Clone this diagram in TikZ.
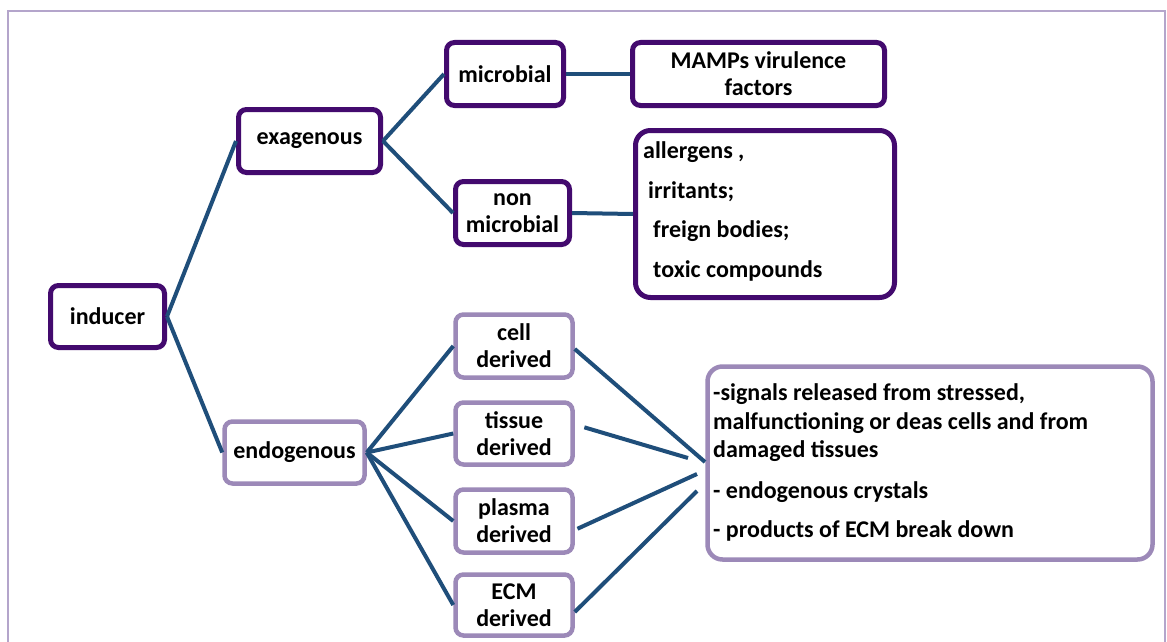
\documentclass[tikz,border=0pt]{standalone}
\usepackage{fontspec}
\setmainfont{Carlito}
\definecolor{dpurple}{HTML}{430A6E}
\definecolor{lpurple}{HTML}{9C89B8}
\definecolor{frame}{HTML}{B4A5CB}
\definecolor{conn}{HTML}{1F4E7A}
\tikzset{
  box/.style={draw=dpurple, line width=5pt, rounded corners=8pt, fill=white, inner sep=0pt, align=center, font=\fontsize{24}{27}\selectfont\bfseries},
  lbox/.style={box, draw=lpurple, line width=4.5pt},
  txt/.style={anchor=base west, inner sep=0pt, font=\fontsize{24}{27}\selectfont\bfseries},
  conn/.style={draw=conn, line width=4pt},
}
\begin{document}
\begin{tikzpicture}[x=1pt,y=-1pt]
\useasboundingbox (0,0) rectangle (1167,642);
\fill[white] (0,0) rectangle (1167,642);
% outer frame
\draw[frame, line width=2.5pt] (8,642) -- (8,11) -- (1165,11) -- (1165,642);

% nodes
\node[box, minimum width=114pt, minimum height=62pt] (inducer) at (107.5,316.5) {inducer};
\node[box, minimum width=142pt, minimum height=63pt] (exa) at (309.5,141) {exagenous};
\node[lbox, minimum width=140pt, minimum height=62pt] (endo) at (294.5,452.5) {endogenous};
\node[box, minimum width=117pt, minimum height=63pt] (micro) at (505,74) {microbial};
\node[box, minimum width=252pt, minimum height=63pt] (mamps) at (758.5,74) {MAMPs virulence\\factors};
\node[box, minimum width=114pt, minimum height=63pt] (nonmicro) at (512.5,213) {non\\microbial};
\node[box, rounded corners=15pt, minimum width=259pt, minimum height=167pt] (allerg) at (765,214) {};
\node[txt] (a1) at (643,158) {allergens ,};
\node[txt] (a2) at (648,198) {irritants;};
\node[txt] (a3) at (653,237) {freign bodies;};
\node[txt] (a4) at (653,277) {toxic compounds};

\node[lbox, minimum width=117pt, minimum height=63pt] (cell) at (514,346) {cell\\derived};
\node[lbox, minimum width=117pt, minimum height=62pt] (tissue) at (514,433.5) {tissue\\derived};
\node[lbox, minimum width=117pt, minimum height=63pt] (plasma) at (514,521) {plasma\\derived};
\node[lbox, minimum width=117pt, minimum height=61pt] (ecm) at (514,605) {ECM\\derived};

\node[lbox, rounded corners=15pt, minimum width=445pt, minimum height=193pt] (signals) at (930,463) {};
\node[txt] (s1t) at (713,400) {-signals released from stressed,};
\node[txt] (s2t) at (713,429) {malfunctioning or deas cells and from};
\node[txt] (s3t) at (713,457) {damaged tissues};
\node[txt] (s4t) at (713,498) {- endogenous crystals};
\node[txt] (s5t) at (713,537) {- products of ECM break down};

\coordinate (c1) at (705,462);
\coordinate (c2) at (688,458);
\coordinate (c3) at (697,474);
\coordinate (c4) at (697,491);

% connectors
\draw[conn] (inducer.east) -- (exa.west);
\draw[conn] (inducer.east) -- (endo.west);
\draw[conn] (exa.east) -- (micro.west);
\draw[conn] (exa.east) -- (nonmicro.west);
\draw[conn] (micro.east) -- (mamps.west);
\draw[conn] (nonmicro.east) -- (allerg.west);
\draw[conn] (endo.east) -- (cell.west);
\draw[conn] (endo.east) -- (tissue.west);
\draw[conn] (endo.east) -- (plasma.west);
\draw[conn] (endo.east) -- (ecm.west);
\draw[conn] ([yshift=-3pt]cell.east) -- (c1);
\draw[conn, shorten <=10pt] ([yshift=9pt]tissue.east) -- (c2);
\draw[conn, shorten <=3pt] ([yshift=-9pt]plasma.east) -- (c3);
\draw[conn] ([yshift=-7pt]ecm.east) -- (c4);
\end{tikzpicture}
\end{document}
